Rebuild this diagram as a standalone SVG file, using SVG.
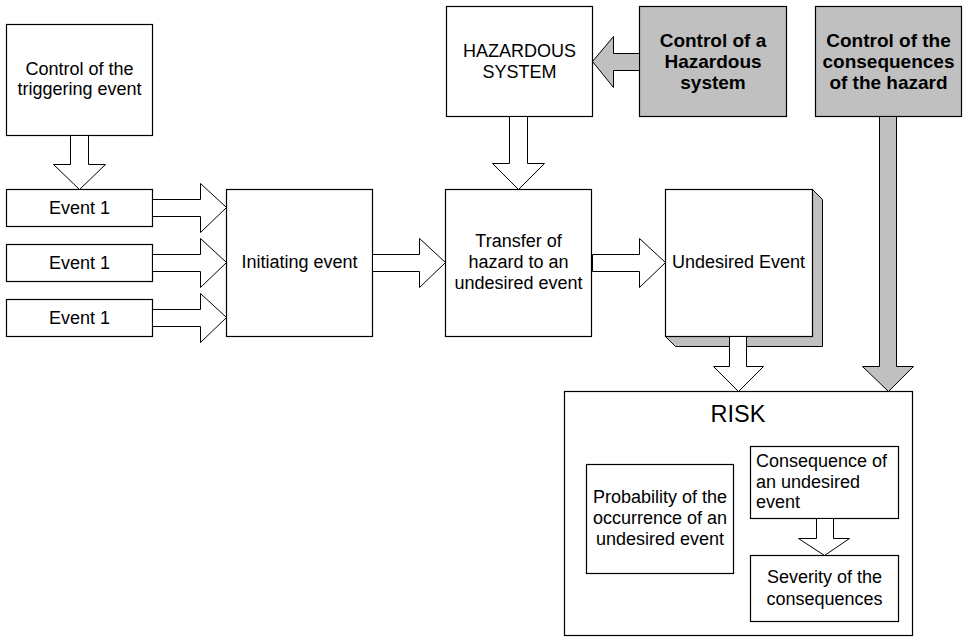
<svg xmlns="http://www.w3.org/2000/svg" width="966" height="637" viewBox="0 0 966 637">
<style>
.box{fill:#fff;stroke:#000;stroke-width:1.2}
.gbox{fill:#c0c0c0;stroke:#000;stroke-width:1.2}
.arr{fill:#fff;stroke:#000;stroke-width:1}
.garr{fill:#c0c0c0;stroke:#000;stroke-width:1}
.shadow{fill:#c0c0c0;stroke:#000;stroke-width:1}
text{font-family:"Liberation Sans",Arial,Helvetica,sans-serif;font-size:18px;fill:#000;text-anchor:middle}
.b{font-weight:bold;font-size:19px}
.l{text-anchor:start}
.big{font-size:23.5px}
</style>
<rect width="966" height="637" fill="#fff"/>
<g id="control-trigger">
<rect class="box" x="6.5" y="24.5" width="146" height="111"/>
<text x="79.5" y="75">Control of the</text>
<text x="79.5" y="95">triggering event</text>
</g>
<g id="event1a">
<rect class="box" x="6.5" y="189.5" width="146" height="37"/>
<text x="79.5" y="214">Event 1</text>
</g>
<g id="event1b">
<rect class="box" x="6.5" y="244.5" width="146" height="37"/>
<text x="79.5" y="269">Event 1</text>
</g>
<g id="event1c">
<rect class="box" x="6.5" y="299.5" width="146" height="37"/>
<text x="79.5" y="324">Event 1</text>
</g>
<g id="initiating">
<rect class="box" x="226.5" y="189.5" width="146" height="147"/>
<text x="299.5" y="268">Initiating event</text>
</g>
<g id="transfer">
<rect class="box" x="445.5" y="189.5" width="146" height="147"/>
<text x="518.5" y="247">Transfer of</text>
<text x="518.5" y="268">hazard to an</text>
<text x="518.5" y="289">undesired event</text>
</g>
<g id="undesired">
<polygon class="shadow" points="812.5,189.5 822.5,199.5 822.5,346.5 675.5,346.5 665.5,336.5 812.5,336.5"/>
<rect class="box" x="665.5" y="189.5" width="147" height="147"/>
<text x="738.5" y="268">Undesired Event</text>
</g>
<g id="hazardous">
<rect class="box" x="446.5" y="6.5" width="146" height="110"/>
<text x="519.5" y="57">HAZARDOUS</text>
<text x="519.5" y="78">SYSTEM</text>
</g>
<g id="control-hazardous">
<rect class="gbox" x="639.5" y="6.5" width="147" height="110"/>
<text class="b" x="713" y="47">Control of a</text>
<text class="b" x="713" y="68">Hazardous</text>
<text class="b" x="713" y="89">system</text>
</g>
<g id="control-consequences">
<rect class="gbox" x="815.5" y="6.5" width="146" height="110"/>
<text class="b" x="888.5" y="47">Control of the</text>
<text class="b" x="888.5" y="68">consequences</text>
<text class="b" x="888.5" y="89">of the hazard</text>
</g>
<g id="risk">
<rect class="box" x="564.5" y="391.5" width="348" height="244"/>
<text class="big" x="738" y="422">RISK</text>
</g>
<g id="probability">
<rect class="box" x="586.5" y="464.5" width="147" height="109"/>
<text x="660" y="503">Probability of the</text>
<text x="660" y="524">occurrence of an</text>
<text x="660" y="545">undesired event</text>
</g>
<g id="consequence">
<rect class="box" x="750.5" y="446.5" width="148" height="72"/>
<text class="l" x="756" y="467">Consequence of</text>
<text class="l" x="756" y="488">an undesired</text>
<text class="l" x="756" y="508">event</text>
</g>
<g id="severity">
<rect class="box" x="750.5" y="555.5" width="148" height="66"/>
<text x="824.5" y="583">Severity of the</text>
<text x="824.5" y="605">consequences</text>
</g>
<g id="connectors">
<polygon class="arr" points="70.5,135.5 88.5,135.5 88.5,164.5 105.5,164.5 79.5,189.5 53.5,164.5 70.5,164.5"/>
<polygon class="arr" points="152.5,199.5 200.5,199.5 200.5,183.5 226.5,207.5 200.5,232.5 200.5,216.5 152.5,216.5"/>
<polygon class="arr" points="152.5,254.5 200.5,254.5 200.5,238.5 226.5,262.5 200.5,287.5 200.5,271.5 152.5,271.5"/>
<polygon class="arr" points="152.5,309.5 200.5,309.5 200.5,293.5 226.5,317.5 200.5,342.5 200.5,326.5 152.5,326.5"/>
<polygon class="arr" points="372.5,254.5 419.5,254.5 419.5,238.5 445.5,262.5 419.5,287.5 419.5,271.5 372.5,271.5"/>
<polygon class="arr" points="592.5,254.5 639.5,254.5 639.5,238.5 665.5,262.5 639.5,287.5 639.5,271.5 592.5,271.5"/>
<polygon class="arr" points="509.5,116.5 527.5,116.5 527.5,163.5 544.5,163.5 518.5,189.5 492.5,163.5 509.5,163.5"/>
<polygon class="garr" points="639.5,53.5 613.5,53.5 613.5,36.5 592.5,61.5 613.5,87.5 613.5,70.5 639.5,70.5"/>
<polygon class="arr" points="729.5,336.5 746.5,336.5 746.5,366.5 763.5,366.5 738.5,391.5 713.5,366.5 729.5,366.5"/>
<polygon class="garr" points="879.5,116.5 896.5,116.5 896.5,366.5 913.5,366.5 888.5,391.5 862.5,366.5 879.5,366.5"/>
<polygon class="arr" points="816.5,518.5 833.5,518.5 833.5,538.5 849.5,538.5 824.5,555.5 798.5,538.5 816.5,538.5"/>
</g>
</svg>
